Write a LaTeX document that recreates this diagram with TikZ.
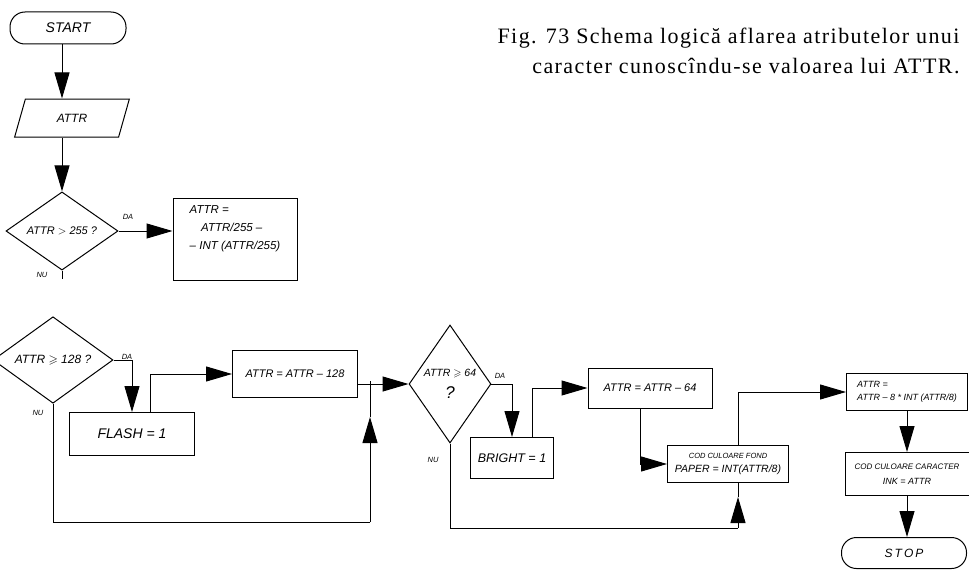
\documentclass[tikz,border=0pt]{standalone}
\usepackage{amsmath,amssymb}
\usepackage{fontspec}
\setmainfont{Liberation Serif}
\setsansfont{Liberation Sans}
\usetikzlibrary{arrows.meta,positioning,shapes.geometric}
\newcommand{\hand}[2]{\fontsize{#1}{#2}\selectfont\sffamily\itshape}

\begin{document}
\begin{tikzpicture}[x=1pt,y=-1pt,>={Triangle[length=26pt,width=15pt]},
  blk/.style={draw,line width=1pt,inner sep=1pt,font=\hand{12}{14}},
  term/.style={blk,rounded corners=15pt},
  io/.style={blk,trapezium,trapezium left angle=70,trapezium right angle=110,trapezium stretches=true},
  dec/.style={blk,diamond,inner sep=0pt},
  flow/.style={->,line width=1pt},
  wire/.style={line width=1pt},
  yn/.style={font=\hand{7.5}{9}},
  capt/.style={anchor=east,font=\fontsize{22}{26}\selectfont\addfontfeatures{LetterSpace=6.5}}]
  \useasboundingbox (0,0) rectangle (969,578);
  \clip (0,0) rectangle (969,578);
  \node[capt] (cap1) at (963,38) {Fig. 73 Schema logică aflarea atributelor unui};
  \node[capt] (cap2) at (963,66) {caracter cunoscîndu-se valoarea lui ATTR.};

  \node[term,minimum width=116pt,minimum height=32pt,font=\hand{14}{16}] (start) at (68,28) {START};
  \node[io,minimum width=115pt,minimum height=38pt,font=\hand{12}{14}] (attr) at (72,118) {ATTR};
  \node[dec,minimum width=112pt,minimum height=78pt,font=\hand{11}{13}] (d1) at (62,231) {ATTR $>$ 255 ?};
  \node[blk,minimum width=124pt,minimum height=82pt,text depth=22pt,align=left,font=\hand{11.5}{18}] (b1) at (235,239) {ATTR =\\ \quad ATTR/255 --\\ -- INT (ATTR/255)};
  \node[yn] (da1) at (128,217) {DA};
  \node[yn] (nu1) at (42,275) {NU};
  \coordinate (t1) at (62,279);

  \node[dec,minimum width=120pt,minimum height=80pt,font=\hand{12}{14}] (d2) at (53,360) {ATTR $\geqslant$ 128 ?};
  \node[blk,minimum width=125pt,minimum height=43pt,font=\hand{14}{16}] (flash) at (132,434) {FLASH = 1};
  \node[blk,minimum width=125pt,minimum height=47pt,font=\hand{11}{13}] (sub128) at (295,374) {ATTR = ATTR -- 128};
  \node[yn] (da2) at (127,357) {DA};
  \node[yn] (nu2) at (38,413) {NU};

  \node[dec,minimum width=80pt,minimum height=118pt,align=center,font=\hand{10.5}{13}] (d3) at (450,384) {ATTR $\geqslant$ 64\\[8pt]{\fontsize{17}{19}\selectfont ?}};
  \node[blk,minimum width=83pt,minimum height=41pt,font=\hand{12.5}{15}] (bright) at (512,458) {BRIGHT = 1};
  \node[blk,minimum width=124pt,minimum height=40pt,font=\hand{11}{13}] (sub64) at (650,388) {ATTR = ATTR -- 64};
  \node[blk,minimum width=121pt,minimum height=37pt,align=center,font=\hand{10.5}{14}] (paper) at (728,464) {{\fontsize{7.5}{9}\selectfont COD CULOARE FOND}\\PAPER = INT(ATTR/8)};
  \node[yn] (da3) at (500,376) {DA};
  \node[yn] (nu3) at (433,460) {NU};

  \node[blk,minimum width=121pt,minimum height=37pt,align=left,font=\hand{9}{13}] (ink1) at (907,392) {ATTR =\\ATTR -- 8 * INT (ATTR/8)};
  \node[blk,minimum width=124pt,minimum height=43pt,align=center,font=\hand{9}{15}] (ink2) at (907,474) {{\fontsize{8}{9}\selectfont COD CULOARE CARACTER}\\INK = ATTR};
  \node[term,minimum width=125pt,minimum height=31pt,font=\hand{12}{14}] (stop) at (904,553) {S\,T\,O\,P};

  \coordinate (lp1) at (370,522);
  \coordinate (up1) at (370,417);
  \coordinate (j1) at (370,381);
  \coordinate (lp2) at (738,528);
  \coordinate (up2) at (738,497);

  \draw[flow] (start.south -| d1.north) -- (attr.north -| d1.north);
  \draw[flow] (attr.south -| d1.north) -- (d1.north);
  \draw[flow] (d1.east) -- (d1.east -| b1.west);
  \draw[wire] (d1.south) -- (t1);

  \draw[flow] (d2.east) -| (flash.north);
  \draw[flow] ([xshift=18pt]flash.north) |- (sub128.west);
  \draw[flow] (sub128.east |- d3.west) -- (d3.west);
  \draw[wire] (d2.south) |- (lp1);
  \draw[flow] (lp1) -- (up1);
  \draw[wire] (up1) -- (j1);

  \draw[flow] (d3.east) -| (bright.north);
  \draw[flow] ([xshift=20pt]bright.north) |- (sub64.west);
  \draw[flow] ([xshift=-10pt]sub64.south) |- (paper.west);
  \draw[wire] (d3.south) |- (lp2);
  \draw[flow] (lp2) -- (up2);
  \draw[wire] (up2) -- (up2 |- paper.south);
  \draw[flow] (paper.north -| lp2) |- (ink1.west);
  \draw[flow] (ink1.south) -- (ink2.north);
  \draw[flow] (ink2.south) -- (ink2.south |- stop.north);
\end{tikzpicture}
\end{document}
